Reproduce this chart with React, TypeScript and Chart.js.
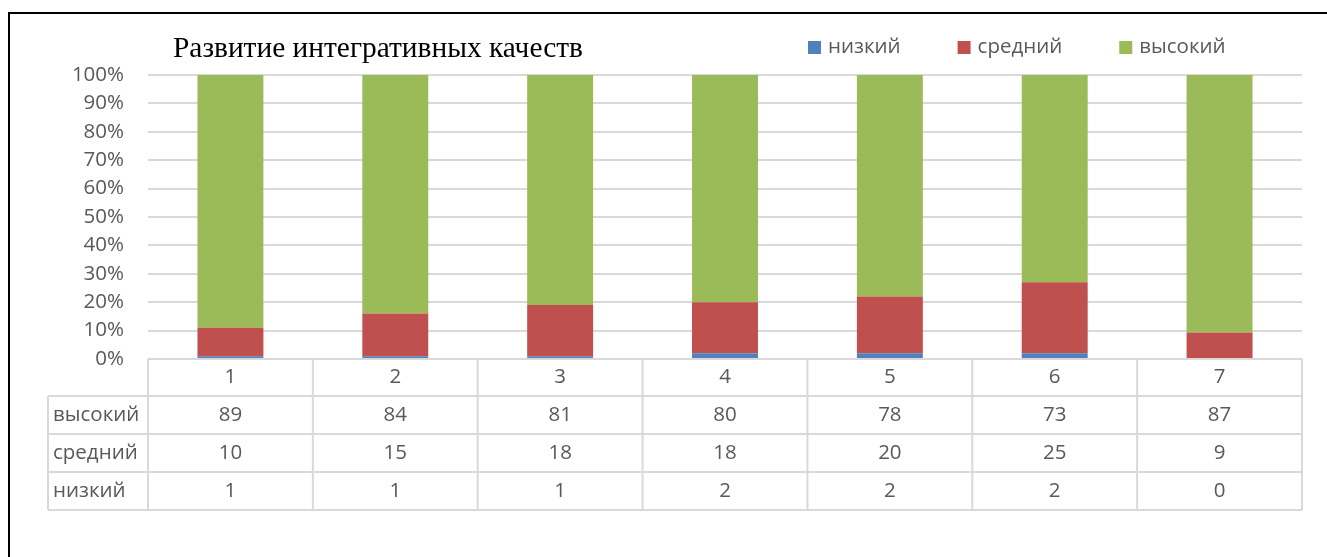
import React, { useEffect, useRef } from "react";
import { Chart, registerables } from "chart.js";

Chart.register(...registerables);

const categories = ["1", "2", "3", "4", "5", "6", "7"];
const seriesNames = ["низкий", "средний", "высокий"];
const lowValues = [1, 1, 1, 2, 2, 2, 0];
const midValues = [10, 15, 18, 18, 20, 25, 9];
const highValues = [89, 84, 81, 80, 78, 73, 87];
const seriesColors = ["#4F81BD", "#C0504D", "#9BBB59"];
const chartTitle = "Развитие интегративных качеств";

const FONT = "'Open Sans', 'Noto Sans', sans-serif";
const TEXT_COLOR = "#595959";
const GRID_COLOR = "#d9d9d9";

const rawSeries = [lowValues, midValues, highValues];
const totals = categories.map((_, i) => rawSeries.reduce((s, arr) => s + arr[i], 0));
const toPercent = (arr: number[]) => arr.map((v, i) => (totals[i] ? (v / totals[i]) * 100 : 0));

const overlayPlugin = {
  id: "overlay",
  afterDraw(chart: any) {
    const ctx = chart.ctx as CanvasRenderingContext2D;
    const area = chart.chartArea;
    const xs = chart.scales.x;
    const n = categories.length;
    const colW = (area.right - area.left) / n;
    const tableLeft = 48;
    const headerH = 37;
    const rowH = 38;
    const top = area.bottom;
    const bottom = top + headerH + rowH * 3;

    ctx.save();
    // table grid
    ctx.strokeStyle = GRID_COLOR;
    ctx.lineWidth = 2;
    ctx.beginPath();
    for (let i = 0; i <= 3; i++) {
      const y = top + headerH + i * rowH;
      ctx.moveTo(tableLeft, y);
      ctx.lineTo(area.right, y);
    }
    for (let k = 0; k <= n; k++) {
      const x = area.left + k * colW;
      ctx.moveTo(x, top);
      ctx.lineTo(x, bottom);
    }
    ctx.moveTo(tableLeft, top + headerH);
    ctx.lineTo(tableLeft, bottom);
    ctx.stroke();

    // table text
    ctx.fillStyle = TEXT_COLOR;
    ctx.font = `20.5px ${FONT}`;
    ctx.textBaseline = "middle";
    ctx.textAlign = "center";
    categories.forEach((c, i) => {
      ctx.fillText(c, xs.getPixelForValue(i), top + headerH / 2);
    });
    const tableRows = [
      { name: seriesNames[2], vals: highValues },
      { name: seriesNames[1], vals: midValues },
      { name: seriesNames[0], vals: lowValues },
    ];
    tableRows.forEach((r, ri) => {
      const cy = top + headerH + ri * rowH + rowH / 2;
      ctx.textAlign = "left";
      ctx.fillText(r.name, tableLeft + 5, cy);
      ctx.textAlign = "center";
      r.vals.forEach((v, i) => ctx.fillText(String(v), xs.getPixelForValue(i), cy));
    });

    // title
    ctx.font = `29.4px 'Liberation Serif', 'Times New Roman', serif`;
    ctx.fillStyle = "#000000";
    ctx.textAlign = "left";
    ctx.textBaseline = "alphabetic";
    ctx.fillText(chartTitle, 173, 57);

    // legend
    ctx.font = `20.5px ${FONT}`;
    ctx.textBaseline = "middle";
    let lx = 808;
    seriesNames.forEach((name, i) => {
      ctx.fillStyle = seriesColors[i];
      ctx.fillRect(lx, 41, 13, 13);
      ctx.fillStyle = TEXT_COLOR;
      ctx.fillText(name, lx + 20, 47);
      lx += 20 + ctx.measureText(name).width + 57;
    });
    ctx.restore();
  },
};

export default function App() {
  const ref = useRef<HTMLCanvasElement | null>(null);
  useEffect(() => {
    if (!ref.current) return;
    const chart = new Chart(ref.current, {
      type: "bar",
      data: {
        labels: categories,
        datasets: seriesNames.map((name, i) => ({
          label: name,
          data: toPercent(rawSeries[i]),
          backgroundColor: seriesColors[i],
          borderWidth: 0,
          categoryPercentage: 1,
          barPercentage: 0.4,
        })),
      },
      options: {
        responsive: false,
        animation: false,
        layout: { padding: { left: 0, top: 75, right: 25, bottom: 198 } },
        plugins: {
          legend: { display: false },
          title: { display: false },
          tooltip: { enabled: false },
        },
        scales: {
          x: { stacked: true, display: false },
          y: {
            stacked: true,
            min: 0,
            max: 100,
            ticks: {
              stepSize: 10,
              callback: (v: any) => `${v}%`,
              color: TEXT_COLOR,
              font: { family: FONT, size: 20.5 },
              padding: 24,
            },
            grid: { color: GRID_COLOR, lineWidth: 2, drawTicks: false },
            border: { display: false },
            afterFit: (scale: any) => {
              scale.width = 148;
            },
          },
        },
      },
      plugins: [overlayPlugin],
    });
    return () => chart.destroy();
  }, []);

  return (
    <div style={{ position: "fixed", left: 0, top: 0, width: 1327, height: 557, overflow: "hidden", background: "#fff" }}>
      <div
        style={{
          position: "absolute",
          left: 8,
          top: 12,
          width: 1400,
          height: 700,
          borderTop: "2px solid #000",
          borderLeft: "2px solid #000",
        }}
      />
      <canvas ref={ref} width={1327} height={557} style={{ position: "absolute", left: 0, top: 0 }} />
    </div>
  );
}
